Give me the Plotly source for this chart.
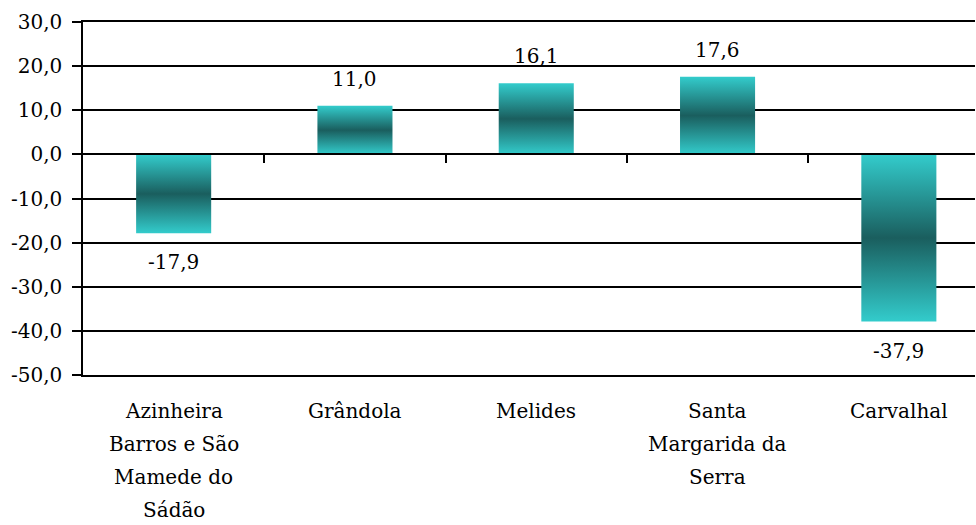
import plotly.graph_objects as go

# Population change by parish (%)
categories = ["Azinheira<br>Barros e São<br>Mamede do<br>Sádão", "Grândola", "Melides",
              "Santa<br>Margarida da<br>Serra", "Carvalhal"]
values = [-17.9, 11.0, 16.1, 17.6, -37.9]
y_ticks = [30, 20, 10, 0, -10, -20, -30, -40, -50]

FONT = "DejaVu Serif"
SIZE = 20
BAR_W = 0.414
LINE_GAP = 33
GRADIENT = [[0.0, "#33CCCC"], [0.5, "#1A5E5E"], [1.0, "#33CCCC"]]

fig = go.Figure()

positions = list(range(len(categories)))
for pos, val, name in zip(positions, values, categories):
    x0, x1 = pos - BAR_W / 2, pos + BAR_W / 2
    fig.add_trace(go.Scatter(
        x=[x0, x1, x1, x0, x0], y=[0, 0, val, val, 0],
        mode="lines", fill="toself", line=dict(width=0),
        fillgradient=dict(type="vertical", colorscale=GRADIENT),
        hoverinfo="skip", showlegend=False,
    ))
    # value label
    fig.add_annotation(
        x=pos, y=val, text=f"{val:.1f}".replace(".", ","), showarrow=False,
        yanchor="bottom" if val >= 0 else "top",
        yshift=13 if val >= 0 else -15,
        font=dict(family=FONT, size=SIZE, color="black"),
    )
    # category label below the plot, one line per row
    for i, line in enumerate(name.split("<br>")):
        fig.add_annotation(
            x=pos, y=0, xref="x", yref="paper", text=line, showarrow=False,
            yanchor="middle", yshift=-36 - LINE_GAP * i,
            font=dict(family=FONT, size=SIZE, color="black"),
        )

# tick marks on the zero line at the category boundaries
fig.add_trace(go.Scatter(x=[0], y=[0], xaxis="x2", mode="markers",
                         marker=dict(opacity=0), hoverinfo="skip", showlegend=False))

x_range = [-0.5, 4.42]
fig.update_layout(
    width=976, height=525,
    margin=dict(l=83, r=1, t=22, b=150),
    paper_bgcolor="white", plot_bgcolor="white",
    font=dict(family=FONT, size=SIZE, color="black"),
    xaxis=dict(
        range=x_range, tickmode="array", tickvals=positions, showticklabels=False,
        showgrid=False, zeroline=False, ticks="",
        showline=True, linecolor="black", linewidth=1.5, mirror=True,
    ),
    xaxis2=dict(
        range=x_range, overlaying="x", anchor="free", position=0.625,
        tickmode="array", tickvals=[0.5, 1.5, 2.5, 3.5], showticklabels=False,
        ticks="outside", ticklen=8, tickwidth=2, tickcolor="black",
        showline=True, linecolor="black", linewidth=1.5,
        showgrid=False, zeroline=False,
    ),
    yaxis=dict(
        range=[-50, 30], tickmode="array", tickvals=y_ticks,
        ticktext=[f"{t:.1f}".replace(".", ",") for t in y_ticks],
        showgrid=True, gridcolor="black", gridwidth=1.5, zeroline=False,
        showline=True, linecolor="black", linewidth=1.5,
        ticks="outside", ticklen=9, tickwidth=1.5, tickcolor="black",
        ticklabelstandoff=6,
        tickfont=dict(family=FONT, size=SIZE, color="black"),
    ),
)

fig.write_html("out.html")
